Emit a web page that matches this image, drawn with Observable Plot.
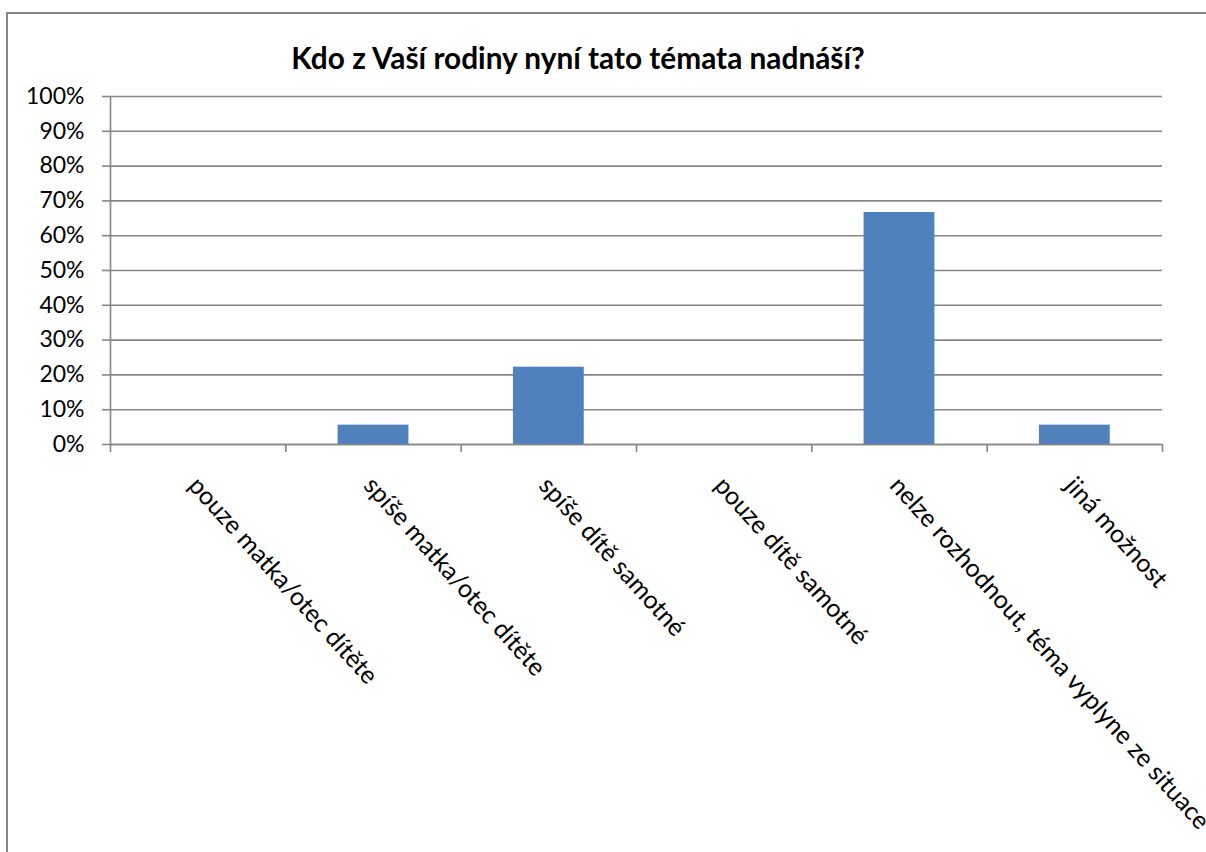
<!DOCTYPE html>
<html>
<head>
<meta charset="utf-8">
<script src="https://cdn.jsdelivr.net/npm/d3@7"></script>
<script src="https://cdn.jsdelivr.net/npm/@observablehq/plot@0.6"></script>
<style>
  html, body { margin: 0; padding: 0; background: #fff; overflow: hidden; }
  #wrap { position: relative; width: 1206px; height: 852px; font-family: Lato, "Noto Sans", sans-serif; }
  #frame { position: absolute; left: 6px; top: 12px; width: 1230px; height: 900px; border-left: 2.5px solid #878787; border-top: 2.5px solid #878787; box-sizing: border-box; }
  #title { position: absolute; left: 0; top: 40px; width: 1156px; text-align: center; font-weight: bold; font-size: 29.8px; line-height: 36px; color: #000; }
  #chart { position: absolute; left: 0; top: 0; }
</style>
</head>
<body>
<div id="wrap">
  <div id="frame"></div>
  <div id="chart"></div>
  <div id="title"></div>
</div>
<script>
const title = "Kdo z Vaší rodiny nyní tato témata nadnáší?";
const categories = [
  "pouze matka/otec dítěte",
  "spíše matka/otec dítěte",
  "spíše dítě samotné",
  "pouze dítě samotné",
  "nelze rozhodnout, téma vyplyne ze situace",
  "jiná možnost"
];
const values = [0, 0.0556, 0.2222, 0, 0.6667, 0.0556];
const yTicks = [0, 0.1, 0.2, 0.3, 0.4, 0.5, 0.6, 0.7, 0.8, 0.9, 1.0];

const data = categories.map((c, i) => ({category: c, index: i, value: values[i]}));
const gray = "#868686";
const barInset = 0.298;

document.getElementById("title").textContent = title;

const chart = Plot.plot({
  width: 1206,
  height: 852,
  marginLeft: 110,
  marginRight: 44,
  marginTop: 96,
  marginBottom: 408,
  style: {fontFamily: "Lato, 'Noto Sans', sans-serif", background: "transparent", color: "#000"},
  x: {domain: [0, categories.length]},
  y: {domain: [0, 1]},
  marks: [
    Plot.gridY(yTicks, {stroke: gray, strokeOpacity: 1, strokeWidth: 1.6}),
    Plot.axisY({ticks: yTicks, tickFormat: d3.format(".0%"), tickSize: 8, tickPadding: 18, fontSize: 23, stroke: gray, strokeWidth: 1.6, label: null}),
    Plot.axisX({ticks: d3.range(categories.length + 1), tickSize: 8, tickFormat: () => "", stroke: gray, strokeWidth: 1.6, label: null}),
    Plot.ruleX([0], {stroke: gray, strokeWidth: 1.6}),
    Plot.rectY(data, {x1: d => d.index + barInset, x2: d => d.index + 1 - barInset, y1: 0, y2: "value", fill: "#4F81BD"}),
    Plot.ruleY([0], {stroke: gray, strokeWidth: 1.6}),
    Plot.text(data, {x: d => d.index + 0.5, text: "category", frameAnchor: "bottom", rotate: 48, textAnchor: "start", dx: -11, dy: 42, fontSize: 25, fill: "#000"})
  ]
});
document.getElementById("chart").appendChild(chart);
</script>
</body>
</html>
